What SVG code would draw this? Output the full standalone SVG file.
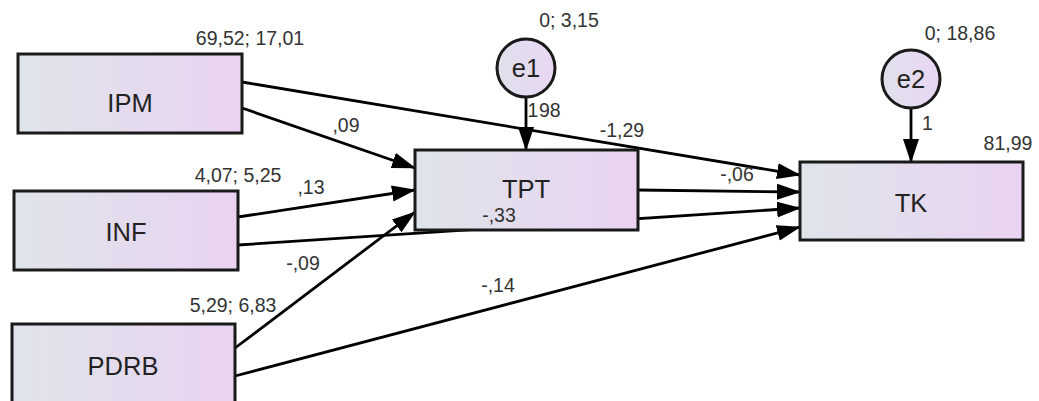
<svg xmlns="http://www.w3.org/2000/svg" width="1039" height="401" viewBox="0 0 1039 401">
<defs>
<linearGradient id="boxg" x1="0" y1="0" x2="1" y2="0">
<stop offset="0" stop-color="#dfe4ea"/>
<stop offset="1" stop-color="#ead3f2"/>
</linearGradient>
<linearGradient id="cirg" x1="0" y1="0" x2="1" y2="0">
<stop offset="0" stop-color="#dfe1ec"/>
<stop offset="1" stop-color="#ead6f2"/>
</linearGradient>
<marker id="arr" markerUnits="userSpaceOnUse" markerWidth="26" markerHeight="18" refX="23" refY="8" orient="auto">
<path d="M0,0 L24,8 L0,16 z" fill="#000"/>
</marker>
</defs>
<style>
.box{fill:url(#boxg);stroke:#1a1a1a;stroke-width:3}
.cir{fill:url(#cirg);stroke:#1a1a1a;stroke-width:3}
.nl{font-family:"Liberation Sans",Arial,sans-serif;font-size:25.5px;fill:#222;text-anchor:middle}
.sl{font-family:"Liberation Sans",Arial,sans-serif;font-size:19.5px;fill:#333;text-anchor:middle}
.con line{stroke:#000;stroke-width:2.8;marker-end:url(#arr)}
</style>
<rect width="1039" height="401" fill="#fff"/>
<g id="connectors" class="con">
<line x1="526" y1="97" x2="526" y2="150"/>
<line x1="911" y1="109" x2="911" y2="162"/>
<line x1="242" y1="108" x2="415" y2="168"/>
<line x1="242" y1="82" x2="800" y2="175"/>
<line x1="238" y1="217" x2="415" y2="190"/>
<line x1="238" y1="245" x2="800" y2="208"/>
<line x1="235" y1="348" x2="415" y2="212"/>
<line x1="235" y1="376" x2="800" y2="227"/>
<line x1="638" y1="190" x2="800" y2="192"/>
</g>
<g id="IPM">
<rect class="box" x="18" y="54" width="224" height="79"/>
<text class="nl" x="130" y="112">IPM</text>
<text class="sl" x="250" y="45">69,52; 17,01</text>
</g>
<g id="INF">
<rect class="box" x="14" y="191" width="224" height="79"/>
<text class="nl" x="126" y="241">INF</text>
<text class="sl" x="238" y="182">4,07; 5,25</text>
</g>
<g id="PDRB">
<rect class="box" x="12" y="324" width="223" height="82"/>
<text class="nl" x="123" y="375">PDRB</text>
<text class="sl" x="233" y="312">5,29; 6,83</text>
</g>
<g id="TPT">
<rect class="box" x="415" y="150" width="223" height="80"/>
<text class="nl" x="526" y="198">TPT</text>
</g>
<g id="TK">
<rect class="box" x="800" y="162" width="223" height="78"/>
<text class="nl" x="911" y="212">TK</text>
<text class="sl" x="1008" y="150">81,99</text>
</g>
<g id="e1">
<circle class="cir" cx="526" cy="68" r="29"/>
<text class="nl" x="526" y="77">e1</text>
<text class="sl" x="569" y="27">0; 3,15</text>
</g>
<g id="e2">
<circle class="cir" cx="911" cy="79" r="29"/>
<text class="nl" x="911" y="88">e2</text>
<text class="sl" x="960" y="40">0; 18,86</text>
</g>
<g id="labels">
<text class="sl" x="533" y="117">1</text>
<text class="sl" x="539" y="117" style="text-anchor:start">98</text>
<text class="sl" x="922" y="130" style="text-anchor:start">1</text>
<text class="sl" x="346" y="132">,09</text>
<text class="sl" x="622" y="137">-1,29</text>
<text class="sl" x="311" y="194">,13</text>
<text class="sl" x="499" y="222">-,33</text>
<text class="sl" x="737" y="181">-,06</text>
<text class="sl" x="303" y="270">-,09</text>
<text class="sl" x="498" y="292">-,14</text>
</g>
</svg>
